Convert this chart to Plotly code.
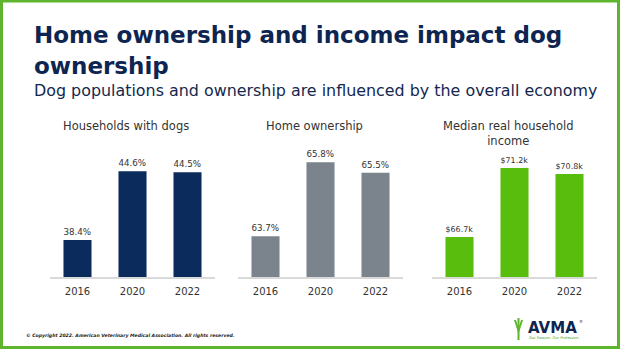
import plotly.graph_objects as go

W, H = 620, 349

# Data
years = ["2016", "2020", "2022"]
dogs_pct = [38.4, 44.6, 44.5]
home_pct = [63.7, 65.8, 65.5]
income_k = [66.7, 71.2, 70.8]

panel_titles = ["Households with dogs", "Home ownership", "Median real household<br>income"]

NAVY = "#0b2b5c"
GRAY = "#7b848c"
GREEN = "#58bd0c"
BORDER = "#5cb52c"
TEXT = "#333333"


def px(x):
    return x / W


def py(y):
    return 1 - y / H


fig = go.Figure()

panels = [
    (dogs_pct, NAVY, "%{y:.1f}%", (50, 215), [35.07, 46.51]),
    (home_pct, GRAY, "%{y:.1f}%", (238, 403), [62.54, 66.15]),
    (income_k, GREEN, "$%{y:.1f}k", (432, 597), [64.09, 72.37]),
]

layout_axes = {}
for i, (vals, color, tmpl, (x0, x1), yr) in enumerate(panels, start=1):
    sfx = "" if i == 1 else str(i)
    fig.add_trace(go.Bar(
        x=years, y=vals,
        marker=dict(color=color, line=dict(width=0)),
        texttemplate=tmpl, textposition="outside",
        textfont=dict(family="DejaVu Sans", size=9, color=TEXT),
        cliponaxis=False,
        xaxis="x" + sfx, yaxis="y" + sfx,
        showlegend=False, hoverinfo="skip",
    ))
    layout_axes["xaxis" + sfx] = dict(
        domain=[px(x0), px(x1)], anchor="y" + sfx,
        showline=True, linecolor="#d9d9d9", linewidth=2,
        ticks="outside", ticklen=4, tickcolor="rgba(0,0,0,0)",
        tickfont=dict(family="DejaVu Sans", size=10, color=TEXT),
        showgrid=False, zeroline=False, fixedrange=True,
    )
    layout_axes["yaxis" + sfx] = dict(
        domain=[py(277), py(150)], anchor="x" + sfx, range=yr,
        visible=False, showgrid=False, zeroline=False, fixedrange=True,
    )

fig.update_layout(**layout_axes)
fig.update_layout(bargap=0.49)


def note(text, x, y, size, color, xanchor="left", yanchor="middle"):
    return dict(text=text, x=px(x), y=py(y), xref="paper", yref="paper",
                xanchor=xanchor, yanchor=yanchor, showarrow=False, align="center",
                font=dict(family="DejaVu Sans", size=size, color=color))


annotations = [
    # Slide heading
    note("<b>Home ownership and income impact dog</b>", 32, 35, 23, "#0d2550"),
    note("<b>ownership</b>", 32, 66, 23, "#0d2550"),
    note("Dog populations and ownership are influenced by the overall economy", 32, 91, 15.9, "#13284f"),
]

# Panel headings
for t, cx in zip(panel_titles, [125.5, 314.5, 507.5]):
    annotations.append(note(t, cx, 117, 11.5, TEXT, xanchor="center", yanchor="top"))

# Footer and logo wordmark
annotations += [
    note("<b><i>© Copyright 2022. American Veterinary Medical Association. All rights reserved.</i></b>",
         24, 335, 4.6, "#222222"),
    note("<b>AVMA</b>", 526, 327.5, 15, "#0d2550"),
    note("®", 576.5, 321, 4, "#0d2550"),
    note("Our Passion. Our Profession.", 527, 337.5, 3.6, "#4aa51c"),
]

fig.update_layout(annotations=annotations)

# Logo emblem and slide border
emblem = (f"M {px(514)} {py(320)} L {px(518.5)} {py(334)} L {px(523)} {py(320)} "
          f"L {px(521)} {py(320)} L {px(518.5)} {py(328)} L {px(516)} {py(320)} Z")
stem = (f"M {px(517.5)} {py(318)} L {px(519.5)} {py(318)} L {px(519.5)} {py(340)} "
        f"L {px(517.5)} {py(340)} Z")
fig.update_layout(shapes=[
    dict(type="path", path=emblem, xref="paper", yref="paper",
         fillcolor="#5cb52c", line=dict(width=0)),
    dict(type="path", path=stem, xref="paper", yref="paper",
         fillcolor="#5cb52c", line=dict(width=0)),
    dict(type="rect", xref="paper", yref="paper", x0=px(1.5), x1=px(618.5), y0=py(347.5), y1=py(1),
         line=dict(color=BORDER, width=3), fillcolor="rgba(0,0,0,0)"),
])

fig.update_layout(
    width=W, height=H, margin=dict(l=0, r=0, t=0, b=0),
    paper_bgcolor="white", plot_bgcolor="white",
)

fig.write_html("out.html")
